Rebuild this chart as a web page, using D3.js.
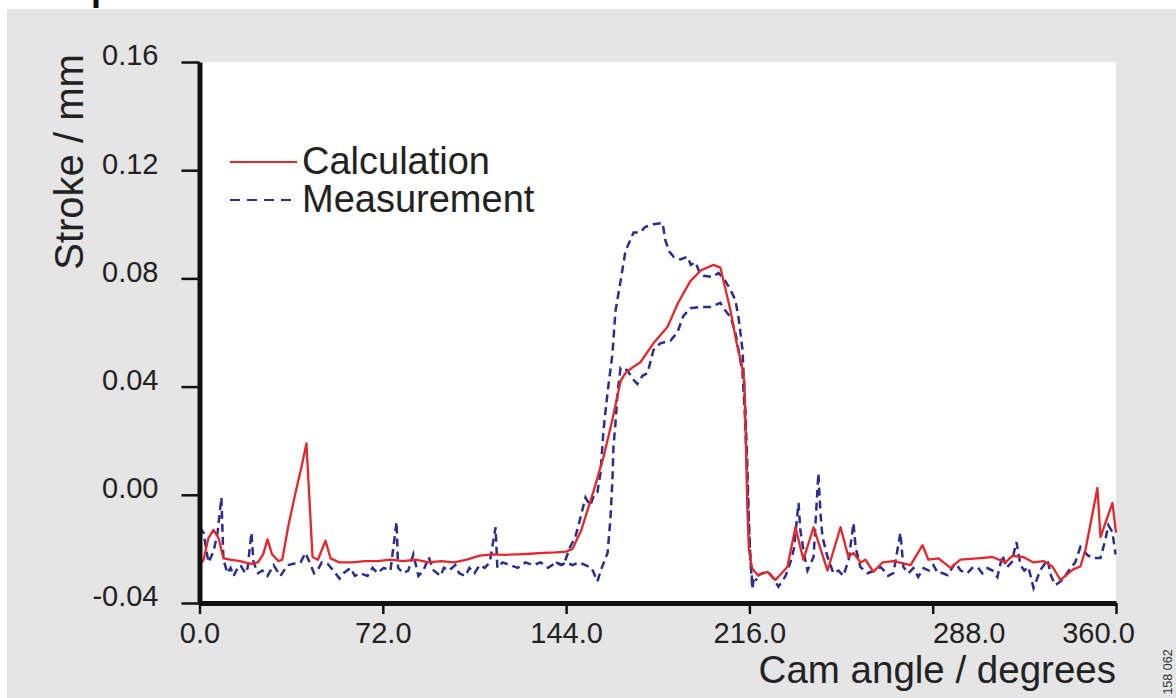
<!DOCTYPE html>
<html>
<head>
<meta charset="utf-8">
<script src="https://cdn.jsdelivr.net/npm/d3@7"></script>
<style>
  html, body { margin: 0; padding: 0; background: #ffffff; }
  svg { display: block; font-family: "Liberation Sans", Arial, Helvetica, sans-serif; }
</style>
</head>
<body>
<svg id="chart" width="1176" height="698"></svg>
<script>
// ---- data -------------------------------------------------------------
// Calculated valve stroke over one cam revolution
const calcAngle = [0, 1.6, 3.5, 5.5, 7.5, 9.4, 12, 16, 20, 23, 25, 26.7, 28.5, 31, 32.5, 35, 38, 40, 42,
  44.4, 46.5, 49.5, 51.5, 55, 60, 65, 70, 75, 80, 85, 90, 95, 100, 105, 110, 115, 120, 125, 130, 135,
  140, 144, 146.5, 148, 150, 152, 155, 158.7, 162, 165.4, 167.3, 170, 173.2, 178.3, 183.8, 188, 192.8,
  197, 201.9, 204.6, 208.6, 211, 213, 214, 214.6, 215.2, 215.8, 217, 219.2, 223.1, 226.2, 230.9, 234.1,
  237.2, 241.2, 246.7, 251.8, 254.9, 256.9, 259.6, 261.6, 264.7, 268.3, 272.6, 279.3, 284, 286.3, 290.3,
  295, 298.9, 306.8, 311.5, 316.6, 319.3, 323.6, 327.6, 331.5, 335, 338.2, 340.1, 343.3, 346, 348,
  352.7, 353.9, 358.6, 360];
const calcStroke = [-0.026, -0.024, -0.016, -0.013, -0.016, -0.0235, -0.024, -0.0245, -0.0255, -0.025,
  -0.022, -0.0165, -0.022, -0.0245, -0.024, -0.011, 0.002, 0.010, 0.019,
  -0.023, -0.024, -0.017, -0.0235, -0.025, -0.025, -0.0245, -0.0245, -0.024, -0.0245, -0.024, -0.025,
  -0.0245, -0.025, -0.024, -0.0225, -0.022, -0.0222, -0.022, -0.0218, -0.0215,
  -0.0213, -0.021, -0.020, -0.017, -0.013, -0.007, 0.002, 0.014, 0.027, 0.042, 0.045, 0.047, 0.049,
  0.056, 0.062, 0.071, 0.079, 0.083, 0.085, 0.084, 0.068, 0.056, 0.048, 0.042, 0.020, -0.005, -0.020,
  -0.027, -0.0297, -0.0285, -0.0315, -0.0267, -0.012, -0.024, -0.012, -0.028, -0.012, -0.023, -0.0215,
  -0.025, -0.024, -0.0285, -0.025, -0.0245, -0.026, -0.0186, -0.024, -0.0235, -0.027, -0.024, -0.0234,
  -0.023, -0.025, -0.0226, -0.023, -0.025, -0.0245, -0.0265, -0.0315, -0.030, -0.0275, -0.0265, -0.0204,
  0.0025, -0.0156, -0.003, -0.014];

// Measured stroke, full revolution
const measAngle = [0, 1.6, 3.5, 5.5, 7.1, 8.6, 9.4, 11, 12.2, 13.4, 15, 16.1, 18, 18.9, 20.4, 21.2, 23,
  24.7, 26.7, 29.1, 31.8, 34.6, 36.9, 39.7, 41.6, 42.8, 45, 46.3, 48, 50.3, 52.6, 55, 56.6, 59.3, 61,
  63.2, 66, 68, 69.9, 72.3, 75, 77.4, 78, 80, 82, 84, 86, 88, 90, 92, 94.7, 96, 98, 100.5, 102, 104.5,
  106, 108, 110, 112, 114, 116.3, 117, 119, 122, 125, 128, 131, 134, 137, 140, 142, 144, 146.5, 149,
  151.6, 154, 156.3, 158, 160.3, 161.4, 162.2, 162.6, 163.4, 164.2, 165.4, 168.1, 170, 172, 174, 176,
  178.3, 181, 185, 187.7, 190, 192.8, 196.8, 200.7, 204.6, 206.6, 208.6, 210.5, 212, 213.3, 214.2, 215,
  215.8, 216.4, 217.2, 217.6, 219, 221.1, 223.5, 225.5, 227.4, 230.2, 232.1, 233.5, 235.3, 236, 237.5,
  238.8, 241.2, 243.1, 243.9, 244.7, 246.7, 249, 251, 252.9, 255, 256.9, 257.7, 259.6, 262.4, 265,
  267.5, 268.7, 270.5, 272.6, 275.3, 276.5, 278.5, 280.4, 282.3, 284.4, 286.5, 288.3, 290, 291.8, 293.8,
  296.9, 299, 301.6, 303.5, 305.6, 307.5, 309.5, 311.5, 313.4, 315.4, 317, 319, 320.9, 322.5, 324, 325.6,
  327.6, 330.3, 333.1, 334.5, 336.2, 339, 342.1, 344, 346, 348.8, 351.1, 353.9, 355.8, 357, 358.6, 359.8];
const measStroke = [-0.012, -0.014, -0.025, -0.021, -0.014, -0.001, -0.024, -0.029, -0.027, -0.030,
  -0.027, -0.026, -0.029, -0.027, -0.014, -0.025, -0.029, -0.028, -0.030, -0.026, -0.030, -0.026,
  -0.0255, -0.025, -0.0215, -0.024, -0.029, -0.028, -0.025, -0.0255, -0.028, -0.031, -0.029, -0.027,
  -0.030, -0.029, -0.030, -0.027, -0.029, -0.027, -0.028, -0.010, -0.027, -0.029, -0.028, -0.022,
  -0.030, -0.028, -0.023, -0.028, -0.030, -0.027, -0.028, -0.026, -0.029, -0.030, -0.027, -0.029,
  -0.026, -0.027, -0.025, -0.012, -0.027, -0.025, -0.026, -0.027, -0.025, -0.026, -0.025, -0.027,
  -0.025, -0.026, -0.025, -0.026, -0.025, -0.026, -0.027, -0.032, -0.027, -0.0215, -0.009, 0.0055,
  0.0177, 0.0266, 0.0376, 0.047, 0.046, 0.043, 0.041, 0.044, 0.045, 0.0535, 0.056, 0.057, 0.060, 0.066,
  0.069, 0.0694, 0.0694, 0.071, 0.068, 0.0657, 0.060, 0.052, 0.045, 0.030, 0.010, -0.012, -0.024,
  -0.035, -0.0315, -0.030, -0.029, -0.0285, -0.031, -0.034, -0.030, -0.025, -0.020, -0.003, -0.013,
  -0.022, -0.028, -0.023, 0.008, -0.0067, -0.0156, -0.023, -0.029, -0.028, -0.030, -0.024, -0.0104,
  -0.0193, -0.0267, -0.029, -0.028, -0.0267, -0.0278, -0.030, -0.0289, -0.014, -0.0267, -0.029,
  -0.0271, -0.0304, -0.0271, -0.028, -0.026, -0.029, -0.0289, -0.0297, -0.0252, -0.028, -0.029, -0.027,
  -0.0267, -0.029, -0.0271, -0.028, -0.0304, -0.0223, -0.027, -0.025, -0.0175, -0.026, -0.028, -0.0267,
  -0.0345, -0.0278, -0.0241, -0.030, -0.0334, -0.0315, -0.0271, -0.025, -0.0193, -0.0223, -0.0234,
  -0.0234, -0.0167, -0.0112, -0.0138, -0.022];

// Measured stroke, second trace through the opening phase
const measPeakAngle = [140, 143, 145.7, 147.5, 149.5, 151.6, 153.5, 155, 156.3, 157.5, 158.7, 160.3,
  162.2, 163.4, 165.4, 167.3, 170.5, 173.2, 175, 178.3, 181.9, 183, 184.5, 186.2, 188.9, 191.7, 193,
  194.8, 196.5, 198, 201.5, 203.9, 206.6, 208.6, 210.5, 211.7, 212.5, 213.3, 213.7, 214.5, 215.2,
  215.8, 216.4, 217.2, 219];
const measPeakStroke = [-0.025, -0.026, -0.019, -0.016, -0.009, -0.001, -0.004, 0.000, 0.001, 0.008,
  0.024, 0.038, 0.052, 0.068, 0.079, 0.090, 0.097, 0.097, 0.099, 0.100, 0.1005, 0.094, 0.090, 0.088,
  0.087, 0.088, 0.085, 0.086, 0.082, 0.081, 0.0805, 0.082, 0.079, 0.0757, 0.072, 0.0657, 0.0598, 0.0535,
  0.045, 0.030, 0.010, -0.010, -0.024, -0.033, -0.031];

// Axis ticks and their labels
const xTicks = [0, 72, 144, 216, 288, 360];
const xTickLabels = ["0.0", "72.0", "144.0", "216.0", "288.0", "360.0"];
const yTicks = [-0.04, 0, 0.04, 0.08, 0.12, 0.16];
const yTickLabels = ["-0.04", "0.00", "0.04", "0.08", "0.12", "0.16"];

const seriesNames = ["Calculation", "Measurement"];

// ---- drawing ----------------------------------------------------------
const RED = "#e5262b";
const BLUE = "#2b2e8c";
const svg = d3.select("#chart");

// page panel
svg.append("rect").attr("x", 7).attr("y", 9).attr("width", 1169).attr("height", 689).attr("fill", "#e5e5e5");
// title, cut off by the top edge
svg.append("text").attr("x", 91).attr("y", 0).attr("font-size", 36).attr("font-weight", "bold")
  .attr("fill", "#111").text("p");

const x = d3.scaleLinear().domain([0, 360]).range([199.5, 1116]);
const y = d3.scaleLinear().domain([-0.04, 0.16]).range([603, 62]);

// plot area
svg.append("rect").attr("x", x(0)).attr("y", y(0.16)).attr("width", x(360) - x(0))
  .attr("height", y(-0.04) - y(0.16)).attr("fill", "#ffffff");

const line = d3.line().x(d => x(d[0])).y(d => y(d[1]));
const zip = (a, b) => a.map((v, i) => [v, b[i]]);

const plot = svg.append("g");
plot.append("path").datum(zip(measAngle, measStroke)).attr("d", line)
  .attr("fill", "none").attr("stroke", BLUE).attr("stroke-width", 2.5).attr("stroke-dasharray", "8,5");
plot.append("path").datum(zip(measPeakAngle, measPeakStroke)).attr("d", line)
  .attr("fill", "none").attr("stroke", BLUE).attr("stroke-width", 2.5).attr("stroke-dasharray", "8,5");
plot.append("path").datum(zip(calcAngle, calcStroke)).attr("d", line)
  .attr("fill", "none").attr("stroke", RED).attr("stroke-width", 2.3).attr("stroke-linejoin", "round");

// axes
const yAxis = d3.axisLeft(y).tickValues(yTicks).tickSize(18).tickSizeOuter(0)
  .tickFormat((d, i) => yTickLabels[i]).tickPadding(23);
const gy = svg.append("g").attr("transform", `translate(${x(0)},0)`).call(yAxis);
gy.select(".domain").attr("stroke", "#111").attr("stroke-width", 5);
gy.selectAll(".tick line").attr("stroke", "#111").attr("stroke-width", 2.5);
gy.selectAll(".tick text").attr("font-size", 29).attr("font-family", null).attr("fill", "#222")
  .attr("dy", "0.1em");

const xAxis = d3.axisBottom(x).tickValues(xTicks).tickSize(11).tickSizeOuter(0)
  .tickFormat((d, i) => xTickLabels[i]).tickPadding(8);
const gx = svg.append("g").attr("transform", `translate(0,${y(-0.04)})`).call(xAxis);
gx.select(".domain").attr("stroke", "#111").attr("stroke-width", 5);
gx.selectAll(".tick line").attr("stroke", "#111").attr("stroke-width", 2.5);
gx.selectAll(".tick text").attr("font-size", 29).attr("font-family", null).attr("fill", "#222");
// the last two labels sit off their ticks in this layout
const xLabelShift = { 288: 36, 360: -18 };
gx.selectAll(".tick text").attr("dx", d => xLabelShift[d] || 0);

// axis titles
svg.append("text").attr("transform", "translate(83,162) rotate(-90)").attr("text-anchor", "middle")
  .attr("font-size", 40).attr("fill", "#222").text("Stroke / mm");
svg.append("text").attr("x", 1116).attr("y", 683).attr("text-anchor", "end")
  .attr("font-size", 38.5).attr("fill", "#222").text("Cam angle / degrees");
svg.append("text").attr("transform", "translate(1172,672) rotate(-90)").attr("text-anchor", "middle")
  .attr("font-size", 12.5).attr("fill", "#333").text("158 062");

// legend
const legend = svg.append("g");
const legendRows = [
  { name: seriesNames[0], color: RED, dash: null, w: 2.2 },
  { name: seriesNames[1], color: BLUE, dash: "10,7", w: 2.2 }
];
legendRows.forEach((r, i) => {
  const cy = 162 + i * 38;
  legend.append("line").attr("x1", 230).attr("x2", 297).attr("y1", cy).attr("y2", cy)
    .attr("stroke", r.color).attr("stroke-width", r.w).attr("stroke-dasharray", r.dash);
  legend.append("text").attr("x", 302).attr("y", cy + 12).attr("font-size", 38).attr("fill", "#222")
    .text(r.name);
});
</script>
</body>
</html>
